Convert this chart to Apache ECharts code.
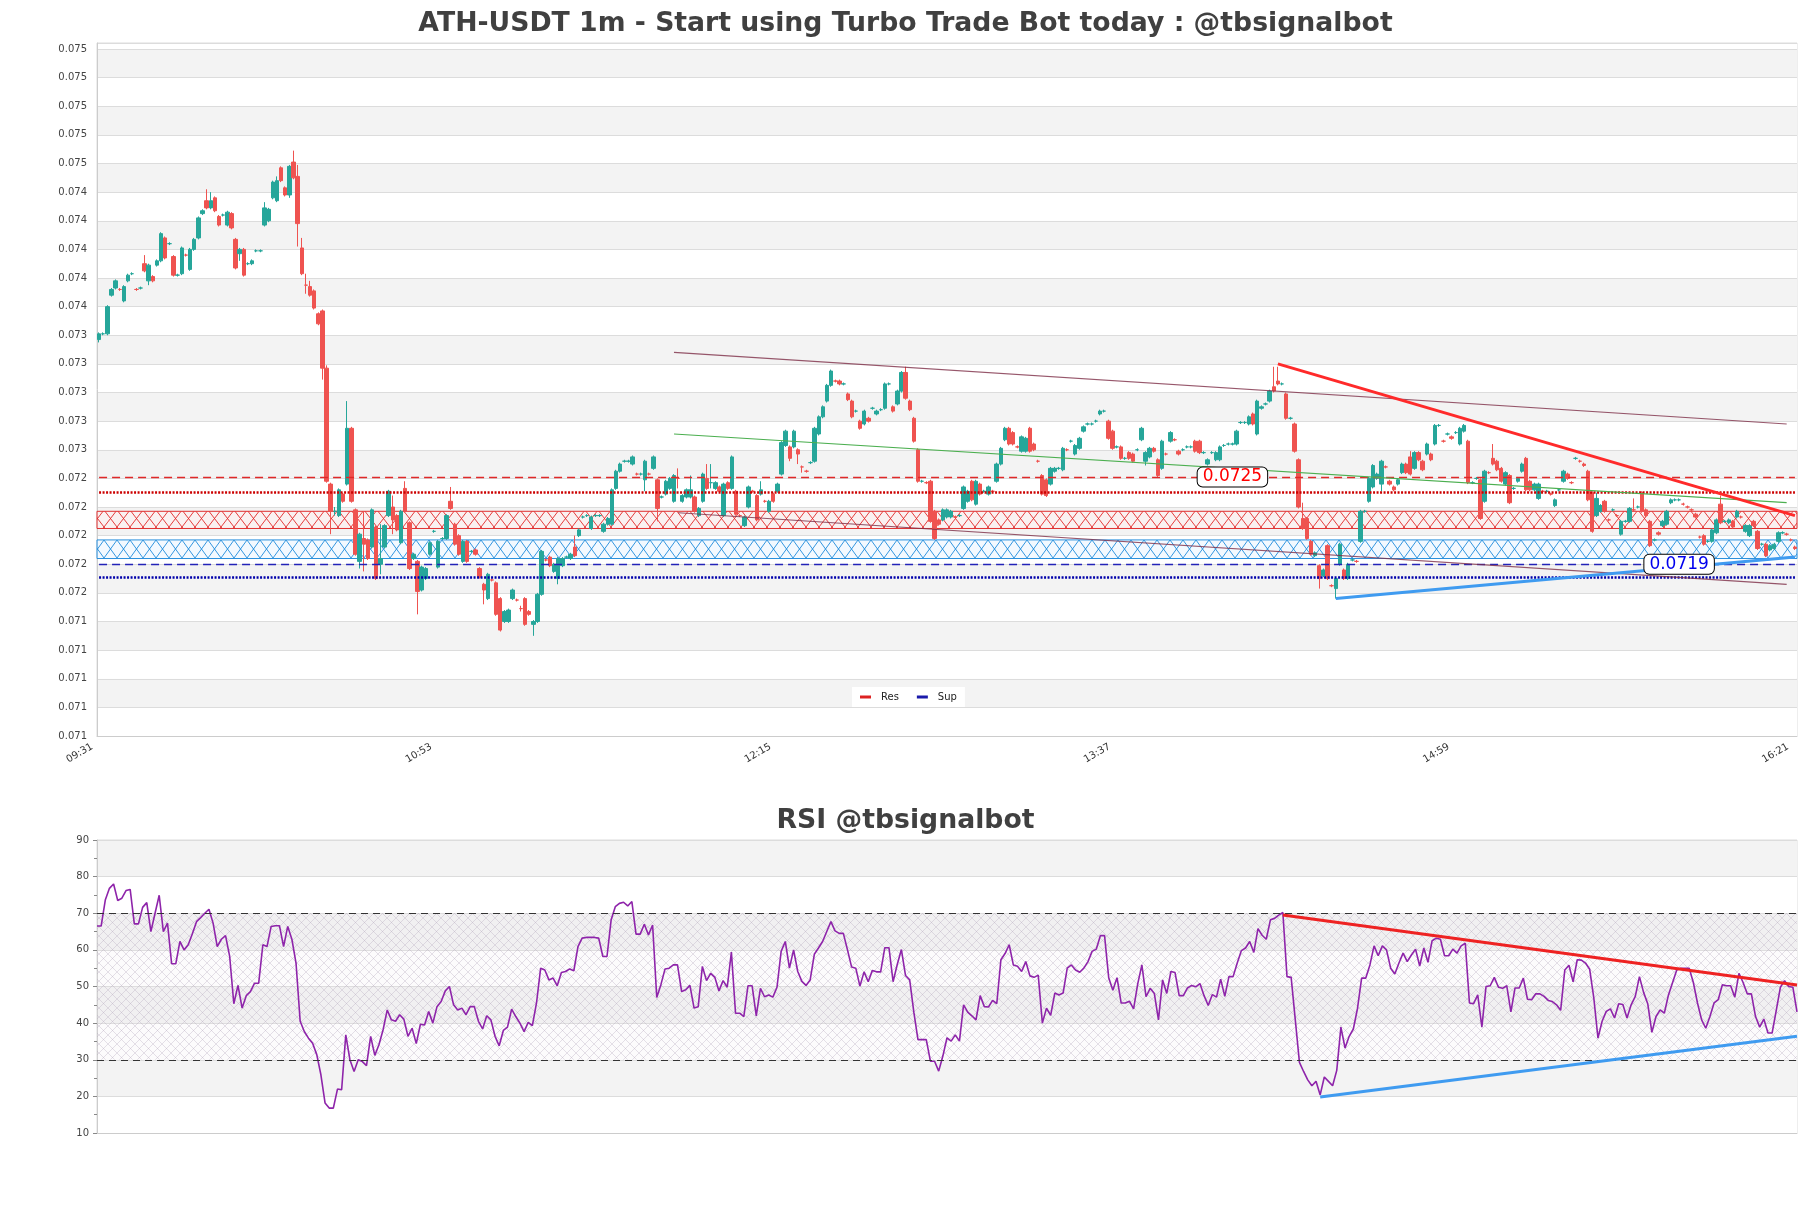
<!DOCTYPE html>
<html><head><meta charset="utf-8">
<script src="https://cdn.jsdelivr.net/npm/echarts@6/dist/echarts.min.js"></script>
<style>html,body{margin:0;padding:0;background:#fff;}#main{width:1811px;height:1208px;}</style>
</head><body><div id="main"></div>
<script>
// ---------------- DATA ----------------
const startTime = '09:31';
const candleCount = 411;
const xTickLabels = ['09:31','10:53','12:15','13:37','14:59','16:21'];
const priceUnit = 1e-5; // prices below are stored in units of 0.00001 USDT
const yMin = 0.07068, yMax = 0.075522, yStep = 0.0002;

const opens = [
7345,7349,7349,7376,7381,7380,7372,7386,7391,7380,
7381,7398,7386,7389,7397,7400,7416,7412,7403,7390,
7391,7404,7394,7408,7416,7433,7442,7437,7444,7431,
7432,7425,7433,7415,7405,7408,7398,7398,7407,7407,
7425,7428,7444,7442,7465,7451,7446,7469,7459,7409,
7383,7382,7379,7363,7365,7325,7244,7225,7222,7237,
7244,7283,7226,7190,7206,7205,7200,7214,7188,7200,
7222,7228,7222,
7203,7241,7217,7192,7190,7170,7178,7195,7211,7186,
7206,7206,7232,7216,7208,7190,7204,7197,7198,7185,
7174,7164,7177,7175,7164,7148,7148,7164,7163,7157,
7164,7155,7146,7148,7167,7191,7193,7183,7178,7187,
7193,7192,7200,7208,7221,7222,7213,7222,7222,7211,
7216,7216,7241,7253,7260,7260,7258,7251,7251,7247,
7251,7255,7247,7235,7237,7241,7232,7248,7232,7235,
7235,7235,7222,7232,7248,7245,7241,7242,7222,7245,
7241,7239,7222,7215,7228,7239,7236,7237,7232,7225,
7237,7239,7251,7271,7270,7270,7268,7256,7253,7259,
7260,7279,7291,7302,7313,7316,7316,7314,7307,7302,
7295,7288,7286,7290,7297,7293,
7296,7297,7314,7298,7300,7309,7322,7302,7290,7268,
7246,7245,7246,7225,7219,7219,7221,7221,7221,7222,
7227,7232,7246,7230,7244,7239,7237,7239,7246,7258,
7275,7283,7280,7270,7267,7267,7283,7272,7260,7250,
7247,7244,7253,7255,7254,7268,7274,7265,7269,7281,
7286,7286,7288,7293,7295,7288,7281,7270,7270,7262,
7266,7265,7268,7275,7260,7263,7269,7261,7255,7265,
7274,7275,7267,7268,7270,7270,7274,7274,7266,7258,
7266,7261,7261,7271,7272,7272,7272,7287,7287,7286,
7293,7279,7297,7300,7302,7312,7316,7314,7307,7290,
7286,7261,7220,7220,7204,7194,7187,7180,7201,7173,
7171,7188,7184,7178,7191,7190,7204,7225,7232,7242,
7248,7244,7256,7246,7242,7244,7252,7258,7263,7255,
7266,7260,7265,7265,7272,7285,7274,7279,7277,7280,
7272,7281,7274,7245,7248,7247,7232,7252,7262,7260,
7255,7244,7250,7241,7246,7253,7262,7246,7240,7234,
7239,7239,7237,7229,7240,7246,7251,7245,7262,7260,
7258,7253,7238,7222,7225,7232,7219,7226,7222,7209,
7218,7218,7226,7228,7238,7226,7218,7205,7210,7215,
7216,7231,7233,7233,7230,7228,7226,7223,7207,7208,
7204,7204,7210,7230,7218,7217,7218,7221,7221,7211,
7208,7218,7211,7202,7202,7198,7199,7204,7210,7209,
7205,7200];

const closes = [
7349,7349,7368,7380,7386,7380,7382,7390,7391,7380,
7381,7393,7397,7386,7400,7419,7402,7412,7390,7390,
7409,7404,7408,7415,7430,7435,7437,7442,7435,7425,
7432,7434,7423,7395,7408,7390,7398,7400,7407,7407,
7437,7436,7455,7456,7456,7446,7466,7458,7426,7391,
7383,7376,7367,7356,7325,7246,7225,7225,7240,7232,
7283,7232,7195,7209,7202,7192,7226,7178,7192,7215,
7239,7219,7212,
7225,7225,7185,7195,7169,7186,7185,7203,7211,7204,
7206,7222,7227,7202,7195,7204,7190,7197,7195,7179,
7170,7181,7177,7153,7142,7155,7156,7170,7163,7157,
7146,7153,7148,7167,7197,7191,7187,7188,7192,7192,
7193,7195,7194,7212,7221,7222,7221,7222,7222,7216,
7220,7240,7253,7258,7260,7260,7263,7251,7251,7260,
7251,7263,7227,7235,7246,7248,7250,7248,7236,7240,
7240,7225,7227,7251,7241,7245,7245,7239,7244,7241,
7263,7223,7222,7221,7242,7239,7219,7240,7232,7232,
7232,7244,7273,7281,7262,7281,7265,7256,7253,7259,
7283,7291,7298,7313,7323,7316,7314,7314,7303,7291,
7295,7283,7295,7288,7297,7295,
7296,7314,7314,7295,7309,7322,7304,7296,7274,7246,
7246,7245,7218,7206,7216,7226,7226,7225,7221,7222,
7242,7239,7233,7246,7237,7239,7242,7239,7258,7269,
7283,7272,7272,7270,7277,7276,7267,7268,7260,7237,
7236,7255,7255,7255,7269,7268,7274,7271,7276,7284,
7286,7286,7288,7295,7295,7276,7269,7270,7262,7262,
7262,7260,7268,7283,7266,7269,7267,7250,7274,7265,
7280,7275,7265,7268,7270,7270,7267,7266,7266,7261,
7266,7266,7270,7271,7272,7272,7281,7287,7287,7291,
7286,7302,7298,7300,7309,7309,7314,7314,7290,7290,
7267,7228,7213,7206,7195,7196,7178,7184,7178,7173,
7178,7202,7178,7188,7191,7190,7225,7225,7248,7257,
7251,7260,7256,7244,7240,7247,7258,7252,7251,7266,
7261,7254,7272,7261,7285,7285,7274,7279,7276,7280,
7283,7285,7245,7245,7248,7220,7253,7252,7258,7254,
7246,7252,7231,7241,7248,7258,7240,7240,7244,7244,
7239,7239,7237,7233,7240,7253,7248,7245,7262,7260,
7257,7233,7211,7234,7229,7225,7219,7226,7222,7218,
7218,7227,7226,7228,7225,7222,7201,7205,7209,7218,
7225,7233,7233,7233,7230,7228,7226,7221,7207,7202,
7204,7212,7219,7217,7218,7219,7214,7225,7221,7215,
7215,7215,7199,7202,7194,7201,7202,7210,7210,7209,
7205,7199];

const lows = [
7343,7348,7348,7375,7380,7379,7371,7385,7390,7379,
7380,7392,7383,7385,7396,7399,7401,7411,7389,7389,
7390,7403,7393,7407,7415,7432,7436,7436,7434,7424,
7431,7424,7422,7394,7400,7389,7397,7397,7406,7406,
7424,7427,7443,7441,7455,7445,7444,7457,7410,7390,
7377,7375,7366,7355,7317,7245,7209,7222,7221,7231,
7243,7231,7194,7185,7183,7191,7199,7177,7181,7199,
7221,7209,7211,
7202,7224,7184,7191,7153,7169,7177,7194,7210,7185,
7205,7205,7226,7201,7194,7189,7189,7196,7194,7178,
7160,7163,7176,7152,7141,7147,7147,7163,7162,7155,
7145,7152,7138,7147,7166,7190,7186,7182,7174,7186,
7192,7191,7193,7207,7220,7221,7212,7221,7221,7210,
7215,7215,7240,7252,7259,7259,7257,7250,7250,7239,
7250,7254,7218,7234,7236,7240,7231,7241,7231,7234,
7234,7224,7221,7231,7240,7241,7240,7238,7221,7240,
7240,7222,7221,7214,7227,7238,7218,7236,7231,7224,
7231,7238,7250,7270,7260,7269,7258,7252,7252,7258,
7259,7278,7290,7301,7312,7315,7313,7313,7302,7290,
7294,7282,7285,7287,7296,7292,
7295,7296,7313,7294,7299,7308,7303,7295,7273,7245,
7245,7244,7217,7205,7215,7218,7220,7220,7220,7221,
7226,7231,7232,7229,7236,7238,7236,7238,7245,7257,
7274,7271,7271,7269,7266,7266,7266,7267,7259,7236,
7235,7243,7252,7254,7253,7267,7273,7264,7268,7280,
7285,7285,7287,7292,7294,7275,7268,7269,7261,7261,
7261,7259,7267,7274,7257,7262,7266,7249,7254,7264,
7273,7274,7264,7267,7269,7269,7266,7265,7265,7257,
7265,7260,7260,7270,7271,7271,7271,7286,7286,7285,
7285,7278,7296,7299,7301,7308,7313,7313,7289,7289,
7266,7227,7212,7205,7194,7193,7171,7179,7177,7172,
7164,7187,7177,7177,7190,7189,7203,7224,7231,7241,
7247,7239,7255,7243,7239,7243,7251,7251,7250,7254,
7260,7253,7264,7260,7271,7284,7273,7278,7275,7279,
7271,7280,7244,7244,7247,7219,7231,7251,7257,7253,
7245,7243,7230,7240,7245,7252,7239,7239,7239,7233,
7238,7238,7236,7228,7239,7245,7247,7244,7261,7259,
7256,7232,7210,7221,7224,7224,7218,7225,7221,7208,
7217,7217,7225,7227,7224,7221,7200,7204,7208,7214,
7215,7230,7232,7232,7229,7227,7225,7220,7206,7201,
7203,7203,7209,7216,7217,7216,7213,7220,7220,7210,
7207,7214,7198,7201,7193,7197,7198,7203,7209,7208,
7204,7198];

const highs = [
7350,7350,7369,7381,7387,7381,7383,7391,7392,7381,
7382,7404,7398,7390,7401,7420,7417,7413,7404,7391,
7410,7405,7409,7416,7431,7436,7450,7448,7445,7432,
7433,7435,7434,7416,7409,7409,7399,7401,7408,7408,
7441,7437,7456,7459,7466,7452,7467,7477,7467,7416,
7391,7386,7380,7364,7366,7327,7245,7228,7241,7238,
7302,7284,7227,7210,7225,7206,7227,7215,7216,7216,
7240,7236,7223,
7226,7246,7218,7196,7191,7187,7186,7204,7212,7205,
7207,7223,7242,7217,7209,7205,7205,7198,7199,7186,
7175,7182,7178,7176,7165,7156,7157,7171,7164,7159,
7165,7156,7149,7168,7198,7192,7194,7189,7193,7193,
7194,7196,7208,7213,7222,7223,7222,7223,7223,7217,
7221,7241,7254,7259,7261,7261,7264,7252,7252,7261,
7252,7264,7248,7236,7247,7249,7251,7255,7237,7241,
7250,7236,7228,7252,7258,7258,7246,7243,7245,7246,
7264,7240,7223,7222,7243,7240,7237,7246,7233,7233,
7238,7245,7274,7282,7271,7282,7269,7257,7254,7260,
7284,7292,7299,7314,7324,7317,7317,7315,7308,7303,
7296,7289,7296,7291,7298,7296,
7297,7315,7315,7299,7310,7323,7326,7303,7291,7269,
7247,7246,7247,7226,7220,7227,7227,7226,7222,7223,
7243,7240,7247,7247,7245,7240,7243,7240,7259,7270,
7284,7284,7281,7271,7278,7277,7284,7273,7261,7251,
7248,7256,7256,7256,7270,7269,7275,7272,7277,7285,
7287,7287,7289,7296,7296,7289,7282,7271,7271,7263,
7267,7266,7269,7284,7267,7270,7270,7262,7275,7266,
7281,7276,7268,7269,7271,7271,7275,7275,7267,7262,
7267,7267,7271,7272,7273,7273,7282,7288,7288,7292,
7294,7303,7299,7301,7310,7326,7326,7315,7308,7291,
7287,7262,7231,7221,7205,7197,7188,7185,7202,7174,
7179,7203,7185,7189,7192,7191,7226,7226,7249,7258,
7252,7261,7257,7247,7243,7248,7259,7259,7267,7267,
7267,7261,7273,7266,7286,7286,7275,7280,7278,7281,
7284,7286,7275,7246,7249,7248,7254,7253,7272,7261,
7256,7253,7251,7242,7249,7259,7263,7247,7245,7245,
7240,7240,7238,7234,7241,7254,7252,7246,7263,7261,
7259,7254,7239,7238,7230,7233,7220,7227,7223,7219,
7219,7228,7234,7229,7239,7227,7219,7206,7211,7219,
7226,7234,7234,7234,7231,7229,7227,7224,7208,7209,
7205,7213,7220,7236,7219,7220,7219,7226,7222,7216,
7216,7219,7212,7203,7203,7202,7203,7211,7211,7210,
7206,7201];

const rsiValues = [
66.5,66.5,73.6,76.8,78,73.5,74.1,76.2,76.5,67.1,
67.1,71.6,72.9,65,70,74.9,65,67.3,56.2,56.2,
62.3,60,61.4,64.4,67.7,68.8,70,71.1,67.3,60.9,
62.9,63.9,58.2,45.3,50.3,44.1,47.5,48.6,50.9,50.9,
61.4,60.9,66.4,66.6,66.6,60.9,66.4,62.9,56.4,40.5,
37.7,35.9,34.5,31.4,25.9,18.2,16.8,16.8,22,21.8,
36.8,30,26.8,30,29.5,28.4,36.4,31.2,34.1,38.2,
43.6,40.9,40.5,42.3,41.1,36.4,38.6,34.4,39.7,39.5,
43.2,40,44.5,45.9,48.8,50,45,43.6,44.1,42.3,
44.5,44.5,40.5,38.4,42,40.9,36.4,33.8,38,38.9,
43.8,41.8,40,37.7,40.2,39.3,45.5,55,54.5,51.8,
52.3,50.2,53.8,54.1,54.8,54.3,60.9,63.2,63.4,63.4,
63.4,63.2,
58.2,58.2,68.2,71.8,72.7,73,72,73.2,64.3,64.3,
67,64.1,66.8,47,50.5,54.8,55,55.9,55.9,48.6,
49.1,50.3,44.1,44.5,55.5,51.6,53.6,52.5,48.8,51.6,
49.8,59.4,42.7,42.7,41.8,50.2,50.2,42,49.5,47.2,
47.7,47.1,49.8,59.6,62.3,55,60,54.1,51.4,50.3,
51.8,58.8,60.5,62.3,65,67.7,65.2,64.5,64.5,60,
55.3,55,50.1,54,51.3,54.4,54,54,60.6,60.6,
51.3,56,60.1,53,51.8,43,35.5,35.5,35.5,29.6,
29.6,26.9,31,36,35.1,36.8,35.1,45,43,42,
40.9,47.5,44.5,44.4,46.2,45.3,57.3,59,61.4,55.9,
55.5,54.1,56.8,52.9,52.5,53.1,40,44.1,42.1,48.2,
47.7,48.2,55,55.9,54.5,53.9,55,56.8,59.6,60.2,
63.9,63.9,52.4,49,52.4,45.5,45.5,46,43.9,50.7,
55.9,47.2,49.5,48.1,40.9,51.8,48.1,54.1,53.8,47.5,
47.5,49.6,50.3,49.9,50.8,47.5,44.8,47.8,47.1,
52,47.3,52.7,52.7,56.4,59.8,60.5,62.3,59.3,65.8,
64,62.9,68.2,68.6,69.5,70.2,52.7,52.5,40.9,29.3,
26.8,24.5,22.9,24.1,20.4,25.3,24.1,22.9,27.1,38.9,
33.2,36.4,38.4,44,52.3,52.3,55.9,61.1,58.4,61.1,
60,55,53.4,56.4,59.1,56.8,58.6,60.2,55.6,60.5,
56.6,62.5,63.2,62.9,58.4,58.4,60.2,59.1,61.1,61.8,
45.5,45.3,47.7,38.9,50,50.2,52.5,49.8,49.5,50.2,
43.1,49.6,49.6,52.3,46.5,46.4,48,48,47.3,46.2,
45.9,45,43.5,54.5,55.8,51.3,57.3,57.2,56.4,54.7,
46.8,35.9,40.5,43.2,43.9,41.4,45.3,45.1,41.4,45,
47.3,52.7,48.4,45.3,37.5,41.8,43.6,42.7,47.7,51.1,
54.5,55,55,55,51.1,45.5,40.9,38.6,41.8,45.5,
46.4,50.5,50.2,50.2,47.1,53.6,51.1,48,48,41.8,
38.9,41.1,37.3,37.3,43.5,49.8,51.6,50,49.8,43.1];

// levels (price units of 0.00001)
const resLevel = 7249, resDotted = 7238, resZone = [7213, 7225];
const supLevel = 7188, supDotted = 7179, supZone = [7192, 7205];
const resLabelIndex = 274, supLabelIndex = 382;
// trend lines: [candle index, price units]
const channelTop = [[139, 7336], [408, 7286]];
const channelMid = [[139, 7279], [408, 7231]];
const channelBottom = [[140, 7224], [408, 7174]];
const resTrend = [[285, 7328], [410, 7222]];
const supTrend = [[299, 7164], [410, 7193]];
// RSI
const rsiBands = [30, 70];
const rsiResTrend = [[286, 69.5], [410, 50.4]];
const rsiSupTrend = [[295, 19.8], [410, 36.4]];

// ---------------- BUILD ----------------
const categories = [];
(function(){ let [h, m] = startTime.split(':').map(Number);
  for (let i = 0; i < candleCount; i++) {
    categories.push(String(h).padStart(2,'0') + ':' + String(m).padStart(2,'0'));
    m++; if (m === 60) { m = 0; h++; }
  }})();
const px = v => +(v * priceUnit).toFixed(6);
const ohlc = opens.map((o, i) => [px(o), px(closes[i]), px(lows[i]), px(highs[i])]);
const lastIdx = candleCount - 1;

function hatch(color, bg, w, h, lw) {
  const c = document.createElement('canvas'); c.width = w; c.height = h;
  const g = c.getContext('2d');
  if (bg) { g.fillStyle = bg; g.fillRect(0, 0, w, h); }
  g.strokeStyle = color; g.lineWidth = lw;
  g.beginPath(); g.moveTo(0, 0); g.lineTo(w, h); g.moveTo(w, 0); g.lineTo(0, h); g.stroke();
  return c;
}
const redHatch = hatch('rgba(225,40,40,0.9)', 'rgba(255,240,240,0.6)', 13, 17, 1);
const blueHatch = hatch('rgba(30,140,220,0.9)', 'rgba(235,245,255,0.6)', 13, 18, 1);
const rsiHatch = hatch('rgba(175,160,185,0.32)', 'rgba(232,225,238,0.15)', 9, 9, 1);

const seg = (pts, style, conv) => [{coord: [pts[0][0], conv(pts[0][1])], lineStyle: style}, {coord: [pts[1][0], conv(pts[1][1])]}];
const hline = (v, style) => seg([[0, v], [lastIdx, v]], style, px);
const idConv = v => v;

const labelStyle = (color) => ({show: true, position: 'inside', color, fontSize: 17,
  backgroundColor: '#fff', borderColor: '#000', borderWidth: 1, borderRadius: 5, padding: [1, 5],
  formatter: p => p.value});

const chart = echarts.init(document.getElementById('main'), null, {renderer: 'canvas'});
const axisLabelColor = '#444';
const titleStyle = {fontSize: 26.7, fontWeight: 'bold', color: '#404040', fontFamily: 'DejaVu Sans'};
const option = {
  animation: false,
  backgroundColor: '#fff',
  textStyle: {fontFamily: 'DejaVu Sans'},
  title: [
    {text: 'ATH-USDT 1m - Start using Turbo Trade Bot today : @tbsignalbot', left: 'center', top: 11, padding: 0, textStyle: titleStyle},
    {text: 'RSI @tbsignalbot', left: 'center', top: 808, padding: 0, textStyle: titleStyle}
  ],
  legend: {data: ['Res', 'Sup'], left: 852, top: 687, backgroundColor: '#fff', padding: [5, 8],
    itemGap: 18, itemWidth: 11, itemHeight: 3, icon: 'rect',
    textStyle: {fontSize: 10, color: '#222', padding: [0, 0, 0, 5]}},
  grid: [
    {left: 97, top: 43, width: 1700, height: 693, show: true, borderColor: '#ddd', borderWidth: 1},
    {left: 97, top: 840, width: 1700, height: 293, show: true, borderColor: '#ddd', borderWidth: 1}
  ],
  xAxis: [
    {type: 'category', gridIndex: 0, data: categories, boundaryGap: true,
     axisLine: {lineStyle: {color: '#ccc'}}, axisTick: {show: false}, splitLine: {show: false},
     axisLabel: {rotate: 30, fontSize: 10, color: '#333', margin: 6, padding: [0, 8, 0, 0],
       interval: (idx, val) => xTickLabels.includes(val)}},
    {type: 'category', gridIndex: 1, data: categories, boundaryGap: false,
     axisLine: {lineStyle: {color: '#ccc'}}, axisTick: {show: false}, axisLabel: {show: false}, splitLine: {show: false}}
  ],
  yAxis: [
    {type: 'value', gridIndex: 0, min: yMin, max: yMax, interval: yStep, scale: true,
     axisLine: {show: true, lineStyle: {color: '#ccc'}}, axisTick: {show: false},
     axisLabel: {fontSize: 10, color: axisLabelColor, margin: 10,
       formatter: v => { const k = (v - yMin) / yStep; return Math.abs(k - Math.round(k)) < 1e-4 ? v.toFixed(3) : ''; }},
     splitLine: {show: true, lineStyle: {color: '#dcdcdc'}},
     splitArea: {show: true, areaStyle: {color: ['#ffffff', '#f3f3f3']}}},
    {type: 'value', gridIndex: 1, min: 10, max: 90, interval: 10,
     axisLine: {show: true, lineStyle: {color: '#ccc'}},
     axisTick: {show: true, length: 4, lineStyle: {color: '#888'}},
     minorTick: {show: true, splitNumber: 2, length: 3, lineStyle: {color: '#888'}},
     axisLabel: {fontSize: 10, color: axisLabelColor, margin: 8},
     splitLine: {show: true, lineStyle: {color: '#dcdcdc'}},
     splitArea: {show: true, areaStyle: {color: ['#ffffff', '#f3f3f3']}}}
  ],
  series: [
    {name: 'Res', type: 'line', xAxisIndex: 0, yAxisIndex: 0, data: [], z: 2,
     itemStyle: {color: '#dd2222'}, lineStyle: {color: '#dd2222'},
     markArea: {silent: true, itemStyle: {color: {image: redHatch, repeat: 'repeat'}, borderColor: '#e03030', borderWidth: 1},
       data: [[{yAxis: px(resZone[0])}, {yAxis: px(resZone[1])}]]},
     markLine: {silent: true, symbol: ['none', 'none'], label: {show: false},
       data: [hline(resLevel, {color: '#e02828', width: 1.3, type: [8, 5]}),
              hline(resDotted, {color: '#cc0000', width: 2.5, type: [2, 1.5]})]},
     markPoint: {symbol: 'rect', symbolSize: 1, itemStyle: {color: 'transparent'},
       data: [{coord: [resLabelIndex, px(resLevel)], value: px(resLevel).toFixed(4)}], label: labelStyle('#ff0000')}},
    {name: 'Sup', type: 'line', xAxisIndex: 0, yAxisIndex: 0, data: [], z: 2,
     itemStyle: {color: '#1a1aaa'}, lineStyle: {color: '#1a1aaa'},
     markArea: {silent: true, itemStyle: {color: {image: blueHatch, repeat: 'repeat'}, borderColor: '#2a90dd', borderWidth: 1},
       data: [[{yAxis: px(supZone[0])}, {yAxis: px(supZone[1])}]]},
     markLine: {silent: true, symbol: ['none', 'none'], label: {show: false},
       data: [hline(supLevel, {color: '#2323b8', width: 1.3, type: [8, 5]}),
              hline(supDotted, {color: '#0000aa', width: 2.5, type: [2, 1.5]})]}},
    {name: 'candles', type: 'candlestick', xAxisIndex: 0, yAxisIndex: 0, data: ohlc, z: 3, barWidth: '95%',
     itemStyle: {color: '#26a69a', color0: '#ef5350', borderColor: '#26a69a', borderColor0: '#ef5350', borderWidth: 1}},
    {name: 'trends', type: 'line', xAxisIndex: 0, yAxisIndex: 0, data: [], z: 4,
     markLine: {silent: true, symbol: ['none', 'none'], label: {show: false},
       data: [
         seg(channelTop, {color: 'rgba(125,45,70,0.8)', width: 1.2, type: 'solid'}, px),
         seg(channelMid, {color: '#4caf50', width: 1.2, type: 'solid'}, px),
         seg(channelBottom, {color: 'rgba(125,45,70,0.8)', width: 1.2, type: 'solid'}, px),
         seg(resTrend, {color: '#ff2a2a', width: 3, type: 'solid'}, px),
         seg(supTrend, {color: '#3f9bf0', width: 3, type: 'solid'}, px)
       ]},
     markPoint: {symbol: 'rect', symbolSize: 1, itemStyle: {color: 'transparent'},
       data: [{coord: [supLabelIndex, px(supLevel)], value: px(supLevel).toFixed(4)}], label: labelStyle('#0000ee')}},
    {name: 'RSI', type: 'line', xAxisIndex: 1, yAxisIndex: 1, data: rsiValues, showSymbol: false, z: 3,
     lineStyle: {color: '#8e24aa', width: 1.6}, itemStyle: {color: '#8e24aa'},
     markArea: {silent: true, itemStyle: {color: {image: rsiHatch, repeat: 'repeat'}},
       data: [[{yAxis: rsiBands[0]}, {yAxis: rsiBands[1]}]]},
     markLine: {silent: true, symbol: ['none', 'none'], label: {show: false},
       data: [
         {yAxis: rsiBands[1], lineStyle: {color: '#333', width: 1, type: [7, 5]}},
         {yAxis: rsiBands[0], lineStyle: {color: '#333', width: 1, type: [7, 5]}},
         seg(rsiResTrend, {color: '#ee2222', width: 3, type: 'solid'}, idConv),
         seg(rsiSupTrend, {color: '#3f9bf0', width: 3, type: 'solid'}, idConv)
       ]}}
  ]
};
chart.setOption(option);
</script></body></html>
